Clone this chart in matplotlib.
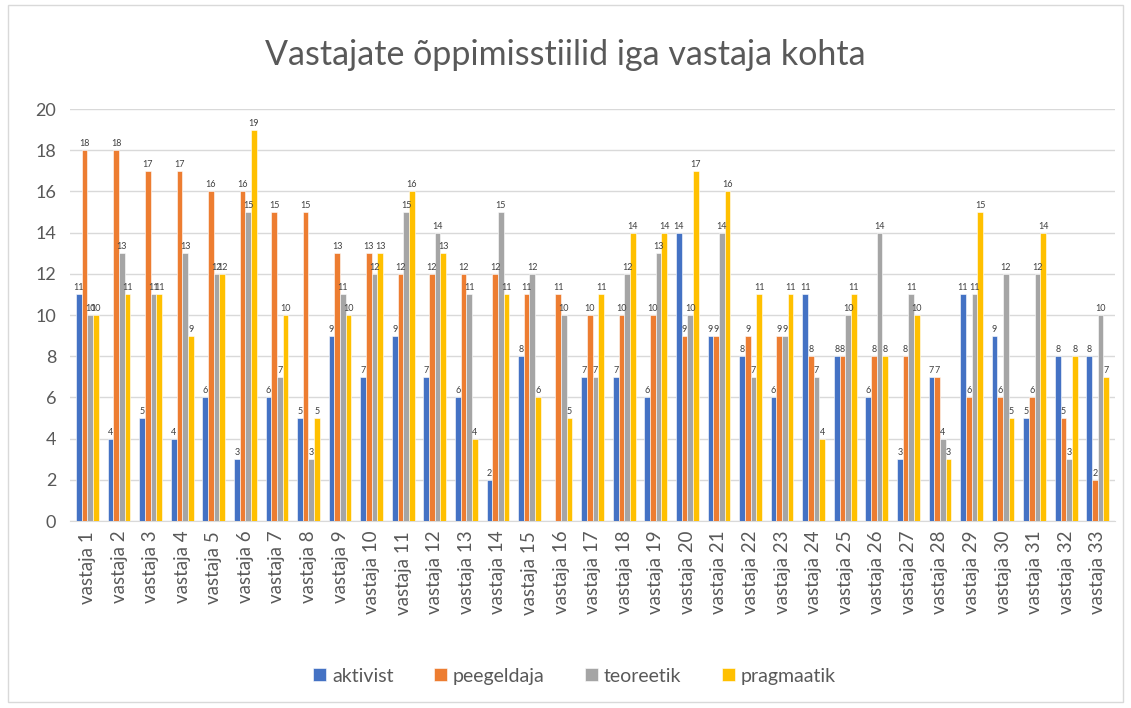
import numpy as np
import matplotlib
matplotlib.use("Agg")
import matplotlib.pyplot as plt
from matplotlib.patches import Rectangle

plt.rcParams['font.family'] = ['Lato', 'DejaVu Sans']

# values (one per respondent)
labels = [f"vastaja {i}" for i in range(1, 34)]
aktivist = [11, 4, 5, 4, 6, 3, 6, 5, 9, 7, 9, 7, 6, 2, 8, np.nan, 7, 7, 6, 14,
            9, 8, 6, 11, 8, 6, 3, 7, 11, 9, 5, 8, 8]
peegeldaja = [18, 18, 17, 17, 16, 16, 15, 15, 13, 13, 12, 12, 12, 12, 11, 11, 10, 10,
              10, 9, 9, 9, 9, 8, 8, 8, 8, 7, 6, 6, 6, 5, 2]
teoreetik = [10, 13, 11, 13, 12, 15, 7, 3, 11, 12, 15, 14, 11, 15, 12, 10, 7, 12,
             13, 10, 14, 7, 9, 7, 10, 14, 11, 4, 11, 12, 12, 3, 10]
pragmaatik = [10, 11, 11, 9, 12, 19, 10, 5, 10, 13, 16, 13, 4, 11, 6, 5, 11, 14,
              14, 17, 16, 11, 11, 4, 11, 8, 10, 3, 15, 5, 14, 8, 7]

series = {
    "aktivist": (aktivist, "#4472C4"),
    "peegeldaja": (peegeldaja, "#ED7D31"),
    "teoreetik": (teoreetik, "#A5A5A5"),
    "pragmaatik": (pragmaatik, "#FFC000"),
}

fig = plt.figure(figsize=(11.31, 7.08), dpi=100)
fig.patches.append(Rectangle((0.007, 0.008), 0.986, 0.985, transform=fig.transFigure,
                             fill=False, edgecolor="#D9D9D9", linewidth=1))
ax = fig.add_axes([0.062, 0.264, 0.924, 0.582])

x = np.arange(len(labels))
w = 0.18
for i, (name, (vals, color)) in enumerate(series.items()):
    offs = (i - 1.5) * w
    ax.bar(x + offs, vals, width=w, color=color, edgecolor="white",
           linewidth=0.4, label=name, zorder=3)
    # data labels above each bar
    for xi, v in zip(x + offs, vals):
        if not np.isnan(v):
            ax.text(xi, v + 0.1, f"{int(v)}", ha="center", va="bottom",
                    fontsize=6.5, color="#404040", zorder=4)

ax.set_xlim(-0.55, len(labels) - 0.45)
ax.set_ylim(0, 20)
ax.set_yticks(range(0, 21, 2))
ax.set_xticks(x)
ax.set_xticklabels(labels, rotation=90, fontsize=13.5, color="#595959")
ax.tick_params(axis="y", labelsize=13, colors="#595959", length=0, pad=10)
ax.tick_params(axis="x", length=0, pad=7)
ax.grid(axis="y", color="#D9D9D9", linewidth=1, zorder=0)
for s in ["top", "right", "left"]:
    ax.spines[s].set_visible(False)
ax.spines["bottom"].set_color("#D9D9D9")

fig.text(0.5, 0.922, "Vastajate õppimisstiilid iga vastaja kohta", ha="center",
         va="center", fontsize=24.5, color="#595959")

handles, hl = ax.get_legend_handles_labels()
fig.legend(handles, hl, loc="center", bbox_to_anchor=(0.508, 0.045), ncol=4,
           frameon=False, fontsize=14, handlelength=0.65, handleheight=0.65,
           columnspacing=2.1, handletextpad=0.3, labelcolor="#595959")

fig.savefig("out.png", dpi=100)
